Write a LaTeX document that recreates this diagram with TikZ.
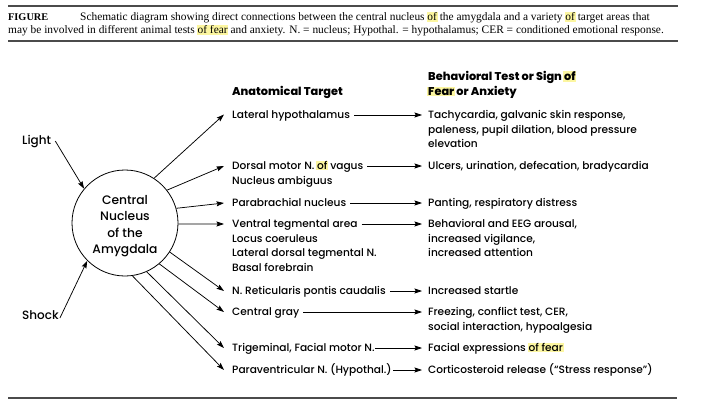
\documentclass[tikz,border=0pt]{standalone}
\usepackage{fontspec}
\setmainfont{Poppins}[UprightFont={* Medium}, BoldFont={* ExtraBold}]
\newfontfamily\capfont{Liberation Serif}
\usetikzlibrary{arrows.meta}
\definecolor{hly}{RGB}{252,246,160}
\definecolor{rulegray}{RGB}{75,75,75}
\newcommand\hlt[1]{\begingroup\setlength{\fboxsep}{0.8pt}\hspace*{-0.8pt}\colorbox{hly}{#1}\hspace*{-0.8pt}\endgroup}
\begin{document}
\begin{tikzpicture}[x=1pt,y=-1pt,
  lbl/.style={font=\fontsize{10.6}{14.5}\selectfont, inner sep=0pt, anchor=base west, align=left},
  hdr/.style={lbl, font=\bfseries\fontsize{11.3}{14.5}\selectfont},
  captxt/.style={font=\capfont\fontsize{11.4}{13}\selectfont, inner sep=0pt, anchor=base west},
  arr/.style={-{Stealth[length=7.5pt,width=5pt,inset=1.2pt]}, line width=0.75pt},
  rulel/.style={draw=rulegray}]
\useasboundingbox (0,0) rectangle (706,409);
% rules
\draw[rulel, line width=2.2pt] (8,6) -- (678,6);
\draw[rulel, line width=1.8pt] (8,41) -- (678,41);
\draw[rulel, line width=1.2pt] (8,398) -- (677,398);
% caption
\node[captxt, font=\capfont\bfseries\fontsize{10.3}{13}\selectfont] (fig) at (8,21) {FIGURE};
\node[captxt] (cap1) at (80,21) {Schematic diagram showing direct connections between the central nucleus \hlt{of} the amygdala and a variety \hlt{of} target areas that};
\node[captxt] (cap2) at (8,34) {may be involved in different animal tests \hlt{of fear} and anxiety. N. = nucleus; Hypothal. = hypothalamus; CER = conditioned emotional response.};
% circle
\node[circle, draw, line width=0.8pt, minimum size=106pt, inner sep=0pt] (c) at (125,223) {};
\node[align=center, inner sep=0pt, font=\fontsize{12.3}{16.4}\selectfont] (ctext) at ([yshift=-3pt]c.center) {Central\\Nucleus\\of the\\Amygdala};
\node[lbl, font=\fontsize{12}{14}\selectfont] (light) at (22,144) {Light};
\node[lbl, font=\fontsize{12}{14}\selectfont] (shock) at (22,319) {Shock};
\draw[arr] ([xshift=4pt]light.east) -- (c.140);
\draw[arr] ([xshift=1pt,yshift=1pt]shock.base east) -- (c.225);
% headers (base = last line)
\node[hdr] (ha) at (232,95.5) {Anatomical Target};
\node[hdr] (hb) at (428,95.5) {Behavioral Test or Sign \hlt{of}\\\hlt{Fear} or Anxiety};
% targets
\node[lbl] (t1) at (232,118.5) {Lateral hypothalamus};
\node[lbl] (t2) at (232,169.5) {Dorsal motor N. \hlt{of} vagus};
\node[lbl] (t2b) at (232,184) {Nucleus ambiguus};
\node[lbl] (t3) at (232,206.5) {Parabrachial nucleus};
\node[lbl] (t4) at (232,227.5) {Ventral tegmental area};
\node[lbl] (t4b) at (232,271) {Locus coeruleus\\Lateral dorsal tegmental N.\\Basal forebrain};
\node[lbl] (t5) at (232,294.5) {N. Reticularis pontis caudalis};
\node[lbl] (t6) at (232,315.5) {Central gray};
\node[lbl] (t7) at (232,351.5) {Trigeminal, Facial motor N.};
\node[lbl] (t8) at (232,373.5) {Paraventricular N. (Hypothal.)};
% behaviours (base = last line)
\node[lbl] (b1) at (428,147.5) {Tachycardia, galvanic skin response,\\paleness, pupil dilation, blood pressure\\elevation};
\node[lbl] (b2) at (428,169.5) {Ulcers, urination, defecation, bradycardia};
\node[lbl] (b3) at (428,206.5) {Panting, respiratory distress};
\node[lbl] (b4) at (428,256.5) {Behavioral and EEG arousal,\\increased vigilance,\\increased attention};
\node[lbl] (b5) at (428,294.5) {Increased startle};
\node[lbl] (b6) at (428,330) {Freezing, conflict test, CER,\\social interaction, hypoalgesia};
\node[lbl] (b7) at (428,351.5) {Facial expressions \hlt{of fear}};
\node[lbl] (b8) at (428,373.5) {Corticosteroid release (“Stress response”)};
% circle to targets
\draw[arr] (c.57)  -- ([xshift=-8pt,yshift=4pt]t1.base west);
\draw[arr] (c.38)  -- ([xshift=-8pt,yshift=3.5pt]t2.base west);
\draw[arr] (c.16)  -- ([xshift=-8pt,yshift=3.5pt]t3.base west);
\draw[arr] (c.-1)  -- ([xshift=-8pt,yshift=3.5pt]t4.base west);
\draw[arr] (c.-33) -- ([xshift=-8pt,yshift=3.5pt]t5.base west);
\draw[arr] (c.-50) -- ([xshift=-8pt,yshift=3.5pt]t6.base west);
\draw[arr] (c.-66) -- ([xshift=-8pt,yshift=3.5pt]t7.base west);
\draw[arr] (c.-82) -- ([xshift=-8pt,yshift=3.5pt]t8.base west);
% targets to behaviours
\draw[arr] ([xshift=4pt,yshift=3.5pt]t1.base east) -- ([xshift=-6pt,yshift=3.5pt]t1.base -| b1.west);
\draw[arr] ([xshift=4pt,yshift=3.5pt]t2.base east) -- ([xshift=-6pt,yshift=3.5pt]t2.base -| b2.west);
\draw[arr] ([xshift=4pt,yshift=3.5pt]t3.base east) -- ([xshift=-6pt,yshift=3.5pt]t3.base -| b3.west);
\draw[arr] ([xshift=4pt,yshift=3.5pt]t4.base east) -- ([xshift=-6pt,yshift=3.5pt]t4.base -| b4.west);
\draw[arr] ([xshift=4pt,yshift=3.5pt]t5.base east) -- ([xshift=-6pt,yshift=3.5pt]t5.base -| b5.west);
\draw[arr] ([xshift=4pt,yshift=3.5pt]t6.base east) -- ([xshift=-6pt,yshift=3.5pt]t6.base -| b6.west);
\draw[arr] ([xshift=0.5pt,yshift=3.5pt]t7.base east) -- ([xshift=-6pt,yshift=3.5pt]t7.base -| b7.west);
\draw[arr] ([xshift=1.5pt,yshift=3.5pt]t8.base east) -- ([xshift=-6pt,yshift=3.5pt]t8.base -| b8.west);
\end{tikzpicture}
\end{document}
